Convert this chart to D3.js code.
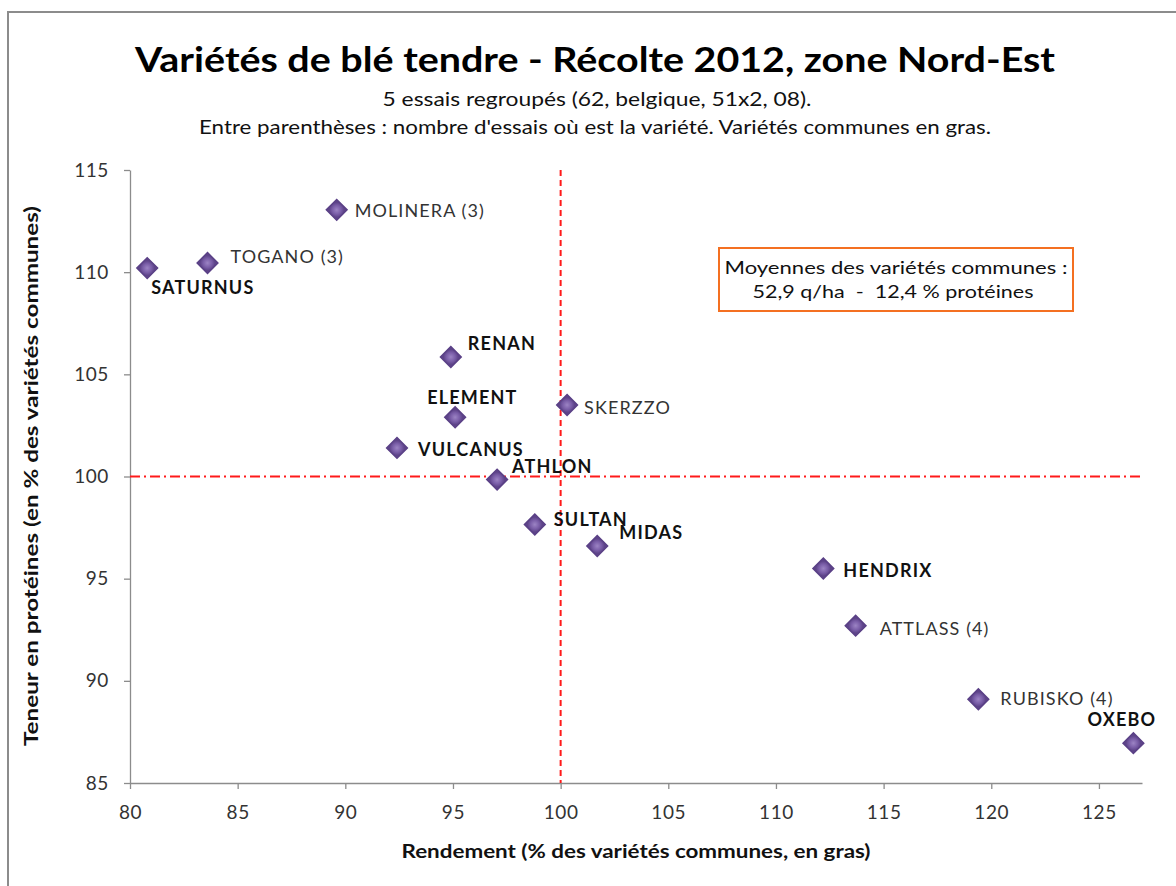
<!DOCTYPE html>
<html>
<head>
<meta charset="utf-8">
<script src="https://cdn.jsdelivr.net/npm/d3@7"></script>
<style>
  body { margin: 0; background: #fff; }
  svg text { font-family: Lato, "Open Sans", sans-serif; }
</style>
</head>
<body>
<svg id="chart" width="1176" height="886"></svg>
<script>
// data
const varieties = ["SATURNUS", "TOGANO (3)", "MOLINERA (3)", "RENAN", "ELEMENT", "VULCANUS",
    "ATHLON", "SKERZZO", "SULTAN", "MIDAS", "HENDRIX", "ATTLASS (4)", "RUBISKO (4)", "OXEBO"];
const rendement = [80.8, 83.6, 89.6, 94.9, 95.1, 92.4, 97.05, 100.3, 98.8, 101.7, 112.2, 113.7, 119.4, 126.6];
const proteines = [110.2, 110.45, 113.05, 105.85, 102.9, 101.4, 99.85, 103.5, 97.65, 96.6, 95.5, 92.7, 89.1, 86.95];
const commune = [true, false, false, true, true, true, true, false, true, true, true, false, false, true];

const xTicks = [80, 85, 90, 95, 100, 105, 110, 115, 120, 125];
const yTicks = [85, 90, 95, 100, 105, 110, 115];

// label placement (dx, dy from the marker)
const labelOffset = [[4, 20], [23, -6], [18, 1], [17, -13], [-28, -20], [21, 2],
    [15, -13], [17, 3], [19, -5], [22, -13], [20, 2], [24, 3], [22, -1], [-46, -23]];

const svg = d3.select("#chart");
const width = 1176, height = 886;

// outer frame
svg.append("rect")
    .attr("x", 8).attr("y", 12)
    .attr("width", width).attr("height", height)
    .attr("fill", "none")
    .attr("stroke", "#8c8c8c")
    .attr("stroke-width", 2);

const x = d3.scaleLinear().domain([80, 127]).range([130, 1142]);
const y = d3.scaleLinear().domain([85, 115]).range([783, 170]);

// stretched text helper: the original is wider than the local fonts
function title(txt, cx, cy, size, len, opts = {}) {
    return svg.append("text")
        .attr("x", cx).attr("y", cy)
        .attr("text-anchor", "middle")
        .attr("font-size", size)
        .attr("font-weight", opts.bold ? "bold" : "normal")
        .attr("font-family", opts.family || null)
        .attr("fill", opts.fill || "#111")
        .attr("textLength", len)
        .attr("lengthAdjust", "spacingAndGlyphs")
        .style("white-space", "pre")
        .text(txt);
}

title("Variétés de blé tendre - Récolte 2012, zone Nord-Est", 595, 72, 35, 920, { bold: true, fill: "#000" });
title("5 essais regroupés (62, belgique, 51x2, 08).", 597, 106, 19, 429);
title("Entre parenthèses : nombre d'essais où est la variété. Variétés communes en gras.", 595, 134, 19, 792);

// axes
const xAxis = svg.append("g")
    .attr("transform", `translate(0,${y(85)})`)
    .call(d3.axisBottom(x).tickValues(xTicks).tickSize(6).tickPadding(17).tickSizeOuter(0));

const yAxis = svg.append("g")
    .attr("transform", `translate(${x(80)},0)`)
    .call(d3.axisLeft(y).tickValues(yTicks).tickSize(6).tickPadding(15).tickSizeOuter(0));

[xAxis, yAxis].forEach(g => {
    g.select(".domain").attr("stroke", "#8c8c8c").attr("stroke-width", 1.3);
    g.selectAll(".tick line").attr("stroke", "#8c8c8c").attr("stroke-width", 1.3);
    g.selectAll(".tick text")
        .attr("font-family", "Lato, sans-serif")
        .attr("font-size", 19)
        .attr("letter-spacing", 0.6)
        .attr("fill", "#333");
});

title("Rendement (% des variétés communes, en gras)", 636, 858, 19, 469, { bold: true });

svg.append("text")
    .attr("transform", `translate(38,476) rotate(-90)`)
    .attr("text-anchor", "middle")
    .attr("font-weight", "bold")
    .attr("font-size", 19)
    .attr("fill", "#111")
    .attr("textLength", 540)
    .attr("lengthAdjust", "spacingAndGlyphs")
    .text("Teneur en protéines (en % des variétés communes)");

// reference lines at 100
svg.append("line")
    .attr("x1", x(100)).attr("x2", x(100))
    .attr("y1", y(115)).attr("y2", y(85))
    .attr("stroke", "#ff1a1a")
    .attr("stroke-width", 2)
    .attr("stroke-dasharray", "6,4");

svg.append("line")
    .attr("x1", x(80)).attr("x2", x(127))
    .attr("y1", y(100)).attr("y2", y(100))
    .attr("stroke", "#ff1a1a")
    .attr("stroke-width", 2)
    .attr("stroke-dasharray", "10,4,2,4");

// averages box
svg.append("rect")
    .attr("x", 719).attr("y", 248)
    .attr("width", 354).attr("height", 63)
    .attr("fill", "#fff")
    .attr("stroke", "#f47021")
    .attr("stroke-width", 2);
const arial = "'Liberation Sans', Arial, sans-serif";
title("Moyennes des variétés communes :", 896, 274, 18, 343, { family: arial });
title("52,9 q/ha  -  12,4 % protéines", 893, 298, 18, 281, { family: arial });

// markers
const defs = svg.append("defs");
const grad = defs.append("radialGradient").attr("id", "dia");
grad.append("stop").attr("offset", "0%").attr("stop-color", "#9c84c4");
grad.append("stop").attr("offset", "60%").attr("stop-color", "#7a5ea8");
grad.append("stop").attr("offset", "100%").attr("stop-color", "#5e4489");

const diamond = d3.symbol().type(d3.symbolSquare).size(215);

const idx = d3.range(varieties.length);

svg.append("g").selectAll("path")
    .data(idx)
    .join("path")
    .attr("d", diamond)
    .attr("transform", i => `translate(${x(rendement[i])},${y(proteines[i])}) rotate(45)`)
    .attr("fill", "url(#dia)")
    .attr("stroke", "#5a4086")
    .attr("stroke-width", 1.5);

svg.append("g").selectAll("text")
    .data(idx)
    .join("text")
    .attr("x", i => x(rendement[i]) + labelOffset[i][0])
    .attr("y", i => y(proteines[i]) + labelOffset[i][1])
    .attr("dy", "0.35em")
    .attr("font-size", 18)
    .attr("letter-spacing", i => commune[i] ? 1.2 : 1.1)
    .attr("font-weight", i => commune[i] ? "bold" : "normal")
    .attr("fill", i => commune[i] ? "#111" : "#333")
    .text(i => varieties[i]);
</script>
</body>
</html>
